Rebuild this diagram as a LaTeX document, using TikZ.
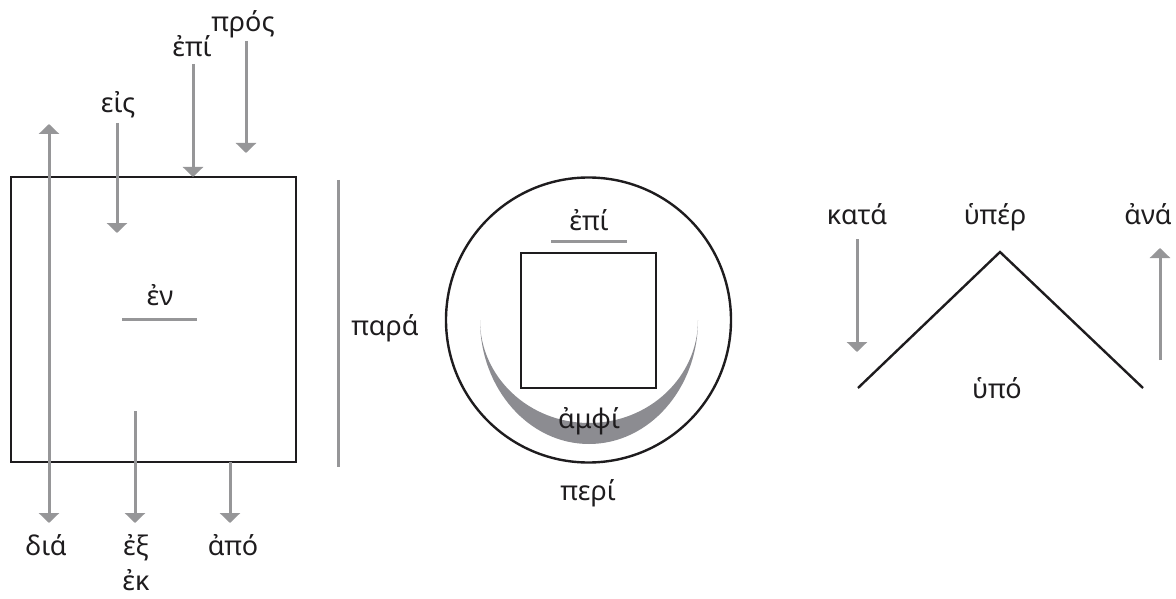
\documentclass[tikz,border=0pt]{standalone}
\usepackage{fontspec}
\setmainfont{Noto Sans}
\usetikzlibrary{arrows.meta}
\definecolor{arrgray}{RGB}{150,150,152}
\definecolor{cresgray}{RGB}{140,140,145}
\definecolor{ink}{RGB}{30,28,30}
\tikzset{
  garrow/.style={draw=arrgray, line width=3pt, -{Triangle[width=20pt,length=10pt]}},
  gline/.style={draw=arrgray, line width=3pt},
  bline/.style={draw=ink, line width=2.4pt},
  lbl/.style={anchor=base, inner sep=0pt, font=\fontsize{27}{32}\selectfont, text=ink},
}
\begin{document}
\begin{tikzpicture}[x=1pt, y=-1pt]
\useasboundingbox (0,0) rectangle (1176,599);
% ---------- left box ----------
\node[bline, draw, minimum width=285pt, minimum height=285pt, inner sep=0pt] (box) at (153.5,319.5) {};
\coordinate (diaB) at (49,523); \coordinate (diaT) at (49,124);
\draw[garrow, {Triangle[width=20pt,length=10pt]}-{Triangle[width=20pt,length=10pt]}] (diaB) -- (diaT);
\coordinate (eisA) at (117,123); \coordinate (eisB) at (117,233);
\draw[garrow] (eisA) -- (eisB);
\coordinate (epiA) at (193,64); \coordinate (epiB) at (193,177);
\draw[garrow] (epiA) -- (epiB);
\coordinate (prosA) at (246,41); \coordinate (prosB) at (246,153);
\draw[garrow] (prosA) -- (prosB);
\coordinate (exA) at (135,411); \coordinate (exB) at (135,523);
\draw[garrow] (exA) -- (exB);
\coordinate (apoA) at (230,462); \coordinate (apoB) at (230,523);
\draw[garrow] (apoA) -- (apoB);
\coordinate (paraA) at (338,180); \coordinate (paraB) at (338,467);
\draw[gline] (paraA) -- (paraB);
\coordinate (enA) at (122,319); \coordinate (enB) at (197,319);
\draw[gline] (enA) -- (enB);
\node[lbl] (teis) at (118,113) {εἰς};
\node[lbl] (tepi) at (192,57) {ἐπί};
\node[lbl] (tpros) at (243,32) {πρός};
\node[lbl] (ten) at (160,305) {ἐν};
\node[lbl] (tdia) at (46,555) {διά};
\node[lbl] (tex) at (136,555) {ἐξ};
\node[lbl] (tek) at (136,590) {ἐκ};
\node[lbl] (tapo) at (233,555) {ἀπό};
\node[lbl] (tpara) at (385,335) {παρά};
% ---------- circle ----------
\fill[cresgray] (480,320) arc[start angle=180, end angle=0, x radius=109, y radius=124]
  arc[start angle=0, end angle=180, x radius=109, y radius=103] -- cycle;
\node[bline, draw, circle, minimum size=285pt, inner sep=0pt] (circ) at (588.5,320) {};
\node[bline, draw, minimum width=135pt, minimum height=135pt, inner sep=0pt] (sq) at (588.5,320.5) {};
\coordinate (cepiA) at (551,241); \coordinate (cepiB) at (627,241);
\draw[gline] (cepiA) -- (cepiB);
\node[lbl] (tcepi) at (589,230) {ἐπί};
\node[lbl] (tamphi) at (589,428) {ἀμφί};
\node[lbl] (tperi) at (588,500) {περί};
% ---------- right ----------
\coordinate (vL) at (858,388); \coordinate (vT) at (1000,252); \coordinate (vR) at (1143,388);
\draw[bline] (vL) -- (vT) -- (vR);
\coordinate (kataA) at (857,239); \coordinate (kataB) at (857,352);
\draw[garrow] (kataA) -- (kataB);
\coordinate (anaA) at (1160,360); \coordinate (anaB) at (1160,248);
\draw[garrow] (anaA) -- (anaB);
\node[lbl] (tkata) at (857,225) {κατά};
\node[lbl] (thyper) at (995,225) {ὑπέρ};
\node[lbl] (tana) at (1148,225) {ἀνά};
\node[lbl] (thypo) at (997,398) {ὑπό};
\end{tikzpicture}
\end{document}
